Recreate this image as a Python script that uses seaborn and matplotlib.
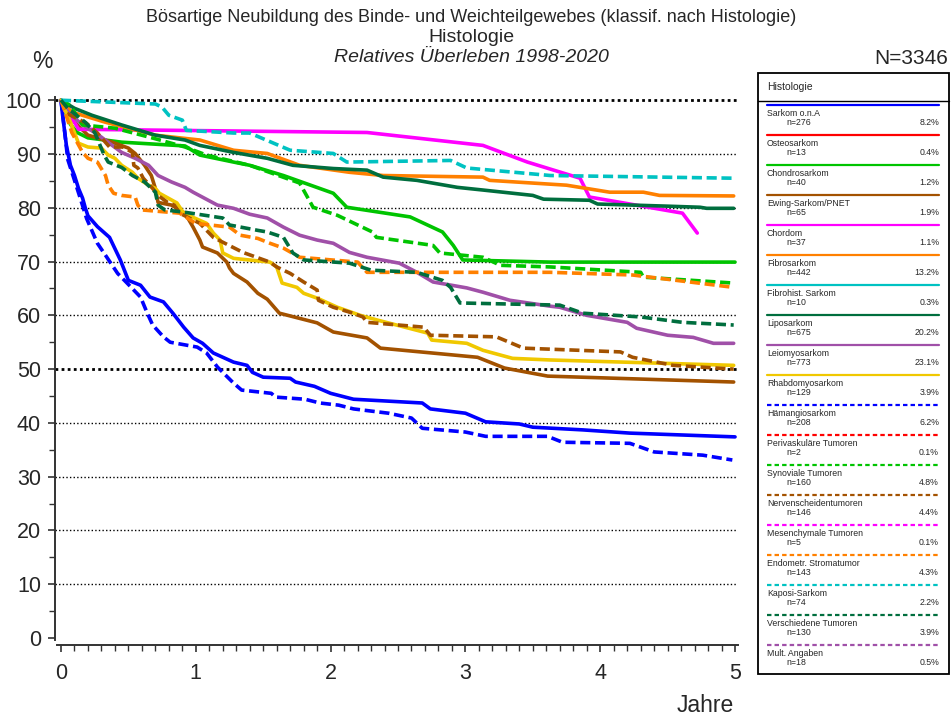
import numpy as np
import pandas as pd
import seaborn as sns
import matplotlib.pyplot as plt
from matplotlib.ticker import MultipleLocator
from matplotlib.patches import Rectangle

# Legende
groups = ['Sarkom o.n.A', 'Osteosarkom', 'Chondrosarkom', 'Ewing-Sarkom/PNET', 'Chordom',
          'Fibrosarkom', 'Fibrohist. Sarkom', 'Liposarkom', 'Leiomyosarkom', 'Rhabdomyosarkom',
          'Hämangiosarkom', 'Perivaskuläre Tumoren', 'Synoviale Tumoren', 'Nervenscheidentumoren',
          'Mesenchymale Tumoren', 'Endometr. Stromatumor', 'Kaposi-Sarkom', 'Verschiedene Tumoren',
          'Mult. Angaben']
counts = [276, 13, 40, 65, 37, 442, 10, 675, 773, 129, 208, 2, 160, 146, 5, 143, 74, 130, 18]
shares = ['8.2%', '0.4%', '1.2%', '1.9%', '1.1%', '13.2%', '0.3%', '20.2%', '23.1%', '3.9%',
          '6.2%', '0.1%', '4.8%', '4.4%', '0.1%', '4.3%', '2.2%', '3.9%', '0.5%']
colors = ['#0000FF', '#FF0000', '#00C400', '#A35200', '#FF00FF', '#FF8000', '#00C2C2', '#006E3E',
          '#A050A8', '#F0C800',
          '#0000FF', '#FF0000', '#00C400', '#A35200', '#FF00FF', '#FF8000', '#00C2C2', '#006E3E',
          '#A050A8']
dashed = [False] * 10 + [True] * 9

# Kurven: Jahre / relatives Ueberleben in %
sarkom_t = [0, 0.01, 0.04, 0.07, 0.10, 0.13, 0.16, 0.18, 0.20, 0.27, 0.36, 0.44, 0.50, 0.59, 0.66,
            0.76, 0.83, 0.91, 0.98, 1.05, 1.13, 1.28, 1.38, 1.42, 1.50, 1.70, 1.74, 1.88, 2.00,
            2.17, 2.68, 2.74, 3.00, 3.15, 3.40, 3.50, 3.87, 4.22, 5.00]
sarkom_s = [100, 97.6, 91.6, 87.9, 86.0, 83.6, 81.8, 80.0, 78.5, 76.5, 74.5, 70.3, 66.5, 65.6, 63.4,
            62.5, 60.4, 57.8, 55.8, 54.8, 53.0, 51.3, 50.7, 49.4, 48.5, 48.3, 47.6, 46.8, 45.5,
            44.4, 43.7, 42.6, 41.8, 40.2, 39.8, 39.2, 38.7, 38.1, 37.4]

chondro_t = [0, 0.07, 0.12, 0.20, 0.45, 0.92, 1.03, 1.28, 1.40, 1.65, 2.02, 2.12, 2.59, 2.83, 2.91,
             2.98, 3.63, 5.00]
chondro_s = [100, 95.5, 94.0, 93.0, 92.2, 91.5, 89.8, 88.5, 87.9, 86.0, 82.7, 80.1, 78.3, 75.5, 73.0,
             70.3, 69.9, 69.9]

ewing_t = [0, 0.04, 0.10, 0.20, 0.38, 0.50, 0.55, 0.62, 0.67, 0.70, 0.72, 0.82, 0.92, 0.98, 1.03,
           1.05, 1.16, 1.23, 1.25, 1.28, 1.38, 1.46, 1.53, 1.62, 1.90, 2.02, 2.27, 2.37, 3.09, 3.29,
           3.61, 4.99]
ewing_s = [100, 98.7, 95.9, 93.5, 92.2, 91.1, 90.1, 87.9, 86.0, 83.6, 81.0, 80.5, 79.0, 76.4, 74.0,
           72.7, 71.6, 69.9, 68.8, 67.8, 66.2, 64.1, 63.0, 60.4, 58.6, 56.9, 55.8, 53.9, 52.2, 50.2,
           48.7, 47.6]

chordom_t = [0, 0.03, 0.10, 0.13, 2.27, 3.13, 3.46, 3.85, 3.92, 4.61, 4.72]
chordom_s = [100, 98.0, 95.9, 94.6, 94.0, 91.6, 88.5, 85.5, 82.0, 79.0, 75.3]

fibro_t = [0, 0.08, 0.33, 0.70, 0.92, 1.03, 1.28, 1.53, 1.77, 2.14, 2.39, 3.13, 3.18, 3.75, 4.07,
           4.32, 4.44, 4.99]
fibro_s = [100, 97.8, 95.9, 93.5, 92.9, 92.6, 90.7, 90.1, 87.9, 86.6, 86.0, 85.7, 85.1, 84.2, 82.9,
           82.9, 82.3, 82.2]

lipo_t = [0, 0.10, 0.23, 0.45, 0.70, 0.92, 1.03, 1.28, 1.53, 1.72, 2.02, 2.27, 2.39, 2.64, 2.94,
          3.13, 3.50, 3.58, 3.92, 3.98, 4.50, 4.74, 4.79, 4.99]
lipo_s = [100, 98.5, 97.2, 95.4, 93.5, 92.6, 91.6, 90.3, 89.2, 87.9, 87.3, 87.0, 85.7, 85.1, 83.8,
          83.3, 82.3, 81.6, 81.4, 80.7, 80.3, 80.1, 79.9, 79.9]

leio_t = [0, 0.05, 0.16, 0.28, 0.38, 0.45, 0.55, 0.65, 0.72, 0.82, 0.92, 0.98, 1.16, 1.28, 1.40,
          1.53, 1.65, 1.77, 1.90, 2.02, 2.14, 2.27, 2.51, 2.64, 2.76, 3.01, 3.13, 3.33, 3.63, 3.70,
          3.90, 4.20, 4.27, 4.50, 4.69, 4.84, 4.99]
leio_s = [100, 97.8, 95.4, 93.5, 91.6, 90.3, 89.2, 87.9, 86.0, 84.8, 83.8, 82.9, 80.5, 79.9, 78.8,
          78.1, 76.4, 74.9, 74.0, 73.4, 71.7, 70.8, 69.7, 68.0, 66.2, 65.1, 64.3, 62.8, 61.7, 61.5,
          60.0, 58.7, 57.6, 56.3, 55.9, 54.8, 54.8]

rhabdo_t = [0, 0.01, 0.05, 0.13, 0.20, 0.30, 0.35, 0.40, 0.45, 0.53, 0.57, 0.65, 0.70, 0.73, 0.86,
            0.91, 1.08, 1.13, 1.18, 1.20, 1.28, 1.55, 1.60, 1.64, 1.75, 1.80, 1.90, 2.05, 2.22,
            2.35, 2.72, 2.75, 3.01, 3.13, 3.35, 3.63, 4.99]
rhabdo_s = [100, 99.0, 97.2, 92.0, 91.3, 91.1, 89.8, 89.2, 87.9, 86.6, 85.5, 84.2, 83.6, 82.7, 80.9,
            79.0, 77.1, 75.3, 74.0, 71.6, 70.6, 69.9, 69.0, 66.0, 65.2, 64.1, 63.2, 61.5, 60.0,
            59.1, 56.7, 55.4, 54.8, 53.5, 52.0, 51.7, 50.7]

haem_t = [0, 0.01, 0.05, 0.14, 0.19, 0.27, 0.34, 0.42, 0.49, 0.59, 0.64, 0.68, 0.76, 0.81, 1.01,
          1.08, 1.16, 1.28, 1.34, 1.56, 1.59, 1.81, 1.92, 2.06, 2.17, 2.43, 2.60, 2.68, 3.00, 3.15,
          3.61, 3.72, 4.22, 4.40, 4.76, 4.98]
haem_s = [100, 98.0, 89.0, 82.0, 78.0, 73.4, 70.8, 67.8, 66.0, 63.4, 60.4, 58.2, 56.0, 55.0, 54.1,
          53.0, 50.4, 47.4, 46.1, 45.5, 44.8, 44.4, 43.7, 43.3, 42.6, 41.8, 40.9, 39.0, 38.3, 37.5,
          37.5, 36.4, 36.2, 34.6, 34.0, 33.1]

synov_t = [0, 0.07, 0.16, 0.40, 0.69, 0.92, 1.08, 1.40, 1.77, 1.87, 2.05, 2.31, 2.34, 2.76, 2.81,
           3.13, 3.26, 3.63, 4.30, 4.32, 4.99]
synov_s = [100, 99.0, 95.4, 94.8, 92.9, 91.3, 89.8, 87.9, 84.6, 80.1, 78.6, 75.5, 74.5, 73.0, 71.6,
           70.8, 69.3, 69.0, 68.0, 67.1, 66.0]

nerv_t = [0, 0.04, 0.19, 0.27, 0.36, 0.46, 0.53, 0.54, 0.57, 0.61, 0.68, 0.72, 0.79, 0.84, 0.88,
          1.03, 1.13, 1.20, 1.35, 1.45, 1.55, 1.60, 1.70, 1.80, 1.90, 1.91, 2.02, 2.14, 2.24, 2.27,
          2.69, 2.74, 3.23, 3.43, 4.15, 4.24, 4.54, 4.99]
nerv_s = [100, 97.6, 95.7, 93.9, 91.3, 91.3, 90.3, 87.9, 87.4, 85.5, 83.6, 82.3, 81.0, 80.5, 79.0,
          77.1, 74.5, 73.6, 71.7, 70.8, 69.9, 69.0, 67.8, 66.2, 64.7, 62.8, 61.5, 60.6, 59.7, 58.7,
          57.8, 56.3, 56.0, 53.9, 53.2, 52.2, 50.7, 50.0]

endo_t = [0, 0.03, 0.08, 0.16, 0.20, 0.27, 0.33, 0.35, 0.39, 0.45, 0.55, 0.57, 0.60, 0.88, 1.00,
          1.25, 1.33, 1.46, 1.55, 1.65, 1.77, 2.20, 2.27, 3.63, 4.24, 4.99]
endo_s = [100, 97.8, 94.0, 90.3, 89.2, 88.5, 86.0, 84.2, 82.7, 82.3, 82.0, 80.5, 79.6, 79.0, 77.1,
          76.4, 74.9, 74.3, 73.4, 72.5, 70.8, 69.9, 68.0, 68.0, 67.5, 65.2]

kaposi_t = [0, 0.20, 0.70, 0.75, 0.80, 0.90, 0.93, 1.28, 1.40, 1.70, 2.02, 2.12, 2.89, 3.01, 3.63,
            4.99]
kaposi_s = [100, 99.8, 99.3, 98.7, 97.2, 96.3, 94.4, 93.9, 93.9, 90.7, 90.1, 88.5, 88.8, 87.4, 86.0,
            85.5]

versch_t = [0, 0.05, 0.18, 0.25, 0.32, 0.35, 0.45, 0.53, 0.62, 0.70, 0.72, 0.77, 0.91, 1.20, 1.25,
            1.46, 1.53, 1.65, 1.72, 1.80, 2.14, 2.30, 2.64, 2.83, 2.89, 2.96, 3.70, 3.87, 4.30,
            4.61, 4.99]
versch_s = [100, 98.5, 95.9, 94.0, 89.8, 88.5, 87.5, 86.0, 84.8, 82.9, 80.5, 79.6, 79.2, 78.1, 76.8,
            75.8, 75.5, 74.5, 71.6, 70.3, 69.7, 68.4, 68.0, 66.5, 65.2, 62.3, 61.9, 60.4, 59.7,
            58.7, 58.2]

curves = {
    'Sarkom o.n.A': (sarkom_t, sarkom_s),
    'Chondrosarkom': (chondro_t, chondro_s),
    'Ewing-Sarkom/PNET': (ewing_t, ewing_s),
    'Chordom': (chordom_t, chordom_s),
    'Fibrosarkom': (fibro_t, fibro_s),
    'Liposarkom': (lipo_t, lipo_s),
    'Leiomyosarkom': (leio_t, leio_s),
    'Rhabdomyosarkom': (rhabdo_t, rhabdo_s),
    'Hämangiosarkom': (haem_t, haem_s),
    'Synoviale Tumoren': (synov_t, synov_s),
    'Nervenscheidentumoren': (nerv_t, nerv_s),
    'Endometr. Stromatumor': (endo_t, endo_s),
    'Kaposi-Sarkom': (kaposi_t, kaposi_s),
    'Verschiedene Tumoren': (versch_t, versch_s),
}

if __name__ == '__main__':
    sns.set_style('ticks')
    plt.rcParams['font.family'] = ['Liberation Sans', 'DejaVu Sans']

    W, H = 952, 727
    fig = plt.figure(figsize=(W / 100, H / 100), dpi=100)
    ax = fig.add_axes([55 / W, 1 - 645 / H, (738 - 55) / W, (645 - 97) / H])

    # Gitterlinien
    for yv in range(10, 100, 10):
        if yv != 50:
            ax.axhline(yv, color='black', lw=1.0, ls=(0, (1, 1.6)), zorder=1)
    for yv in (50, 100):
        ax.axhline(yv, color='black', lw=2.0, ls=(0, (1, 1.2)), zorder=1)

    for name, col, dsh in zip(groups, colors, dashed):
        if name not in curves:
            continue
        t, s = curves[name]
        df = pd.DataFrame({'Jahre': t, 'Ueberleben': s})
        sns.lineplot(data=df, x='Jahre', y='Ueberleben', color=col, lw=2.6,
                     estimator=None, sort=False, ax=ax, zorder=3)
        if dsh:
            ax.lines[-1].set_linestyle((0, (2.8, 1.3)))

    ax.set_xlim(-0.0445, 5.022)
    ax.set_ylim(-1.3, 100.6)
    ax.set_xlabel('')
    ax.set_ylabel('')
    ax.set_xticks(range(6))
    ax.set_yticks(range(0, 101, 10))
    ax.xaxis.set_minor_locator(MultipleLocator(0.1))
    ax.yaxis.set_minor_locator(MultipleLocator(5))
    ax.tick_params(axis='both', which='major', labelsize=15.5, length=5, width=1.2,
                   color='#333333', direction='out')
    ax.tick_params(axis='both', which='minor', length=4, width=1.0, color='#333333')
    ax.tick_params(axis='x', pad=8)
    ax.tick_params(axis='y', pad=5)
    sns.despine(ax=ax)
    for sp in ('left', 'bottom'):
        ax.spines[sp].set_color('#333333')
        ax.spines[sp].set_linewidth(1.4)
    ax.spines['left'].set_bounds(-0.4, 100.6)
    ax.spines['bottom'].set_bounds(-0.03, 5.022)

    # Titel
    fig.text(0.495, 1 - 17 / H, 'Bösartige Neubildung des Binde- und Weichteilgewebes (klassif. nach Histologie)',
             ha='center', va='center', fontsize=13)
    fig.text(0.495, 1 - 37 / H, 'Histologie', ha='center', va='center', fontsize=14)
    fig.text(0.495, 1 - 57 / H, 'Relatives Überleben 1998-2020', ha='center', va='center',
             fontsize=14, style='italic')
    fig.text(42 / W, 1 - 62 / H, '%', ha='center', va='center', fontsize=16.5)
    fig.text(948 / W, 1 - 59 / H, 'N=3346', ha='right', va='center', fontsize=15)
    fig.text(734 / W, 1 - 706 / H, 'Jahre', ha='right', va='center', fontsize=16.5)

    # Legende
    lax = fig.add_axes([755 / W, 1 - 678 / H, (951 - 755) / W, (678 - 70) / H])
    lax.set_xlim(755, 951)
    lax.set_ylim(678, 70)
    lax.axis('off')
    lax.add_patch(Rectangle((758, 73), 191, 601, fill=False, ec='black', lw=1.3))
    lax.plot([758, 949], [101, 101], color='black', lw=1.0)
    lax.text(767, 87, 'Histologie', ha='left', va='center', fontsize=7.5)
    for i, (name, n, sh, col, dsh) in enumerate(zip(groups, counts, shares, colors, dashed)):
        yl = 104.5 + 30 * i
        lax.plot([767, 939], [yl, yl], color=col, lw=1.6,
                 ls=(0, (2.0, 1.4)) if dsh else '-')
        lax.text(767, yl + 8.7, name, ha='left', va='center', fontsize=6.3)
        lax.text(786, yl + 17.7, 'n=%d' % n, ha='left', va='center', fontsize=6.3)
        lax.text(939, yl + 17.7, sh, ha='right', va='center', fontsize=6.3)

    plt.savefig('out.png', dpi=100)
    print("ok")
